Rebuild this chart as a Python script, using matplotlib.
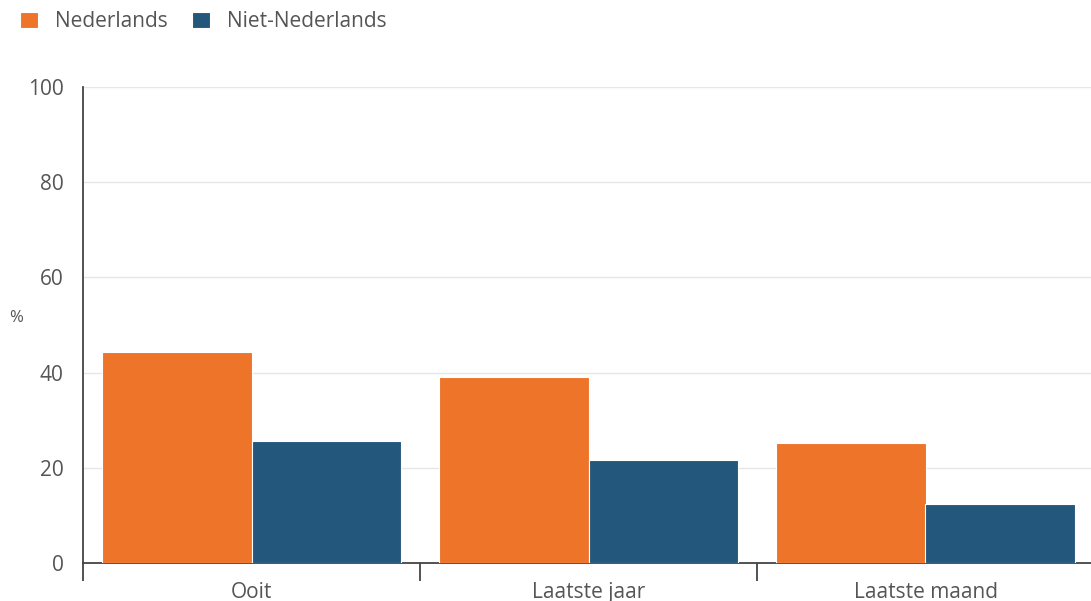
import matplotlib
matplotlib.use("Agg")
import matplotlib.pyplot as plt
import numpy as np

categories = ["Ooit", "Laatste jaar", "Laatste maand"]
series_names = ["Nederlands", "Niet-Nederlands"]
nederlands = [44.3, 39.1, 25.2]
niet_nederlands = [25.6, 21.6, 12.4]
y_ticks = [0, 20, 40, 60, 80, 100]

ORANGE = "#EE742A"
BLUE = "#23577C"
TEXT = "#555555"

plt.rcParams["font.family"] = ["Open Sans", "DejaVu Sans"]

fig = plt.figure(figsize=(10.91, 6.01), dpi=100)
ax = fig.add_axes([83 / 1091, 1 - 563 / 601, 1011 / 1091, 476 / 601])

x = np.arange(len(categories))
w = 0.443
ax.bar(x - w / 2, nederlands, w, color=ORANGE, edgecolor="white", linewidth=0.8,
       label=series_names[0], zorder=3)
ax.bar(x + w / 2, niet_nederlands, w, color=BLUE, edgecolor="white", linewidth=0.8,
       label=series_names[1], zorder=3)

ax.set_xlim(-0.5, len(categories) - 0.5)
ax.set_ylim(0, 100)
ax.set_yticks(y_ticks)
ax.set_xticks(x)
ax.set_xticklabels(categories)
ax.set_xticks(np.arange(len(categories) + 1) - 0.5, minor=True)

ax.grid(axis="y", color="#e6e6e6", linewidth=1, zorder=0)
for s in ["top", "right"]:
    ax.spines[s].set_visible(False)
ax.spines["left"].set_color("#444444")
ax.spines["bottom"].set_color("#444444")
ax.spines["left"].set_linewidth(1.3)
ax.spines["bottom"].set_linewidth(1.3)

ax.tick_params(axis="y", length=0, pad=14, labelsize=15, labelcolor=TEXT)
ax.tick_params(axis="x", which="major", length=0, pad=14, labelsize=15, labelcolor=TEXT)
ax.tick_params(axis="x", which="minor", length=13, width=1.3, color="#444444")

fig.text(16 / 1091, 1 - 318 / 601, "%", fontsize=12, color=TEXT, ha="center", va="center")

ax.legend(loc="upper left", bbox_to_anchor=(12 / 1091, 1 - 3 / 601),
          bbox_transform=fig.transFigure, ncol=2, frameon=False, fontsize=15,
          handlelength=0.85, handleheight=0.85, handletextpad=0.8, columnspacing=1.2,
          labelcolor=TEXT, borderaxespad=0)

fig.savefig("out.png", dpi=100)
